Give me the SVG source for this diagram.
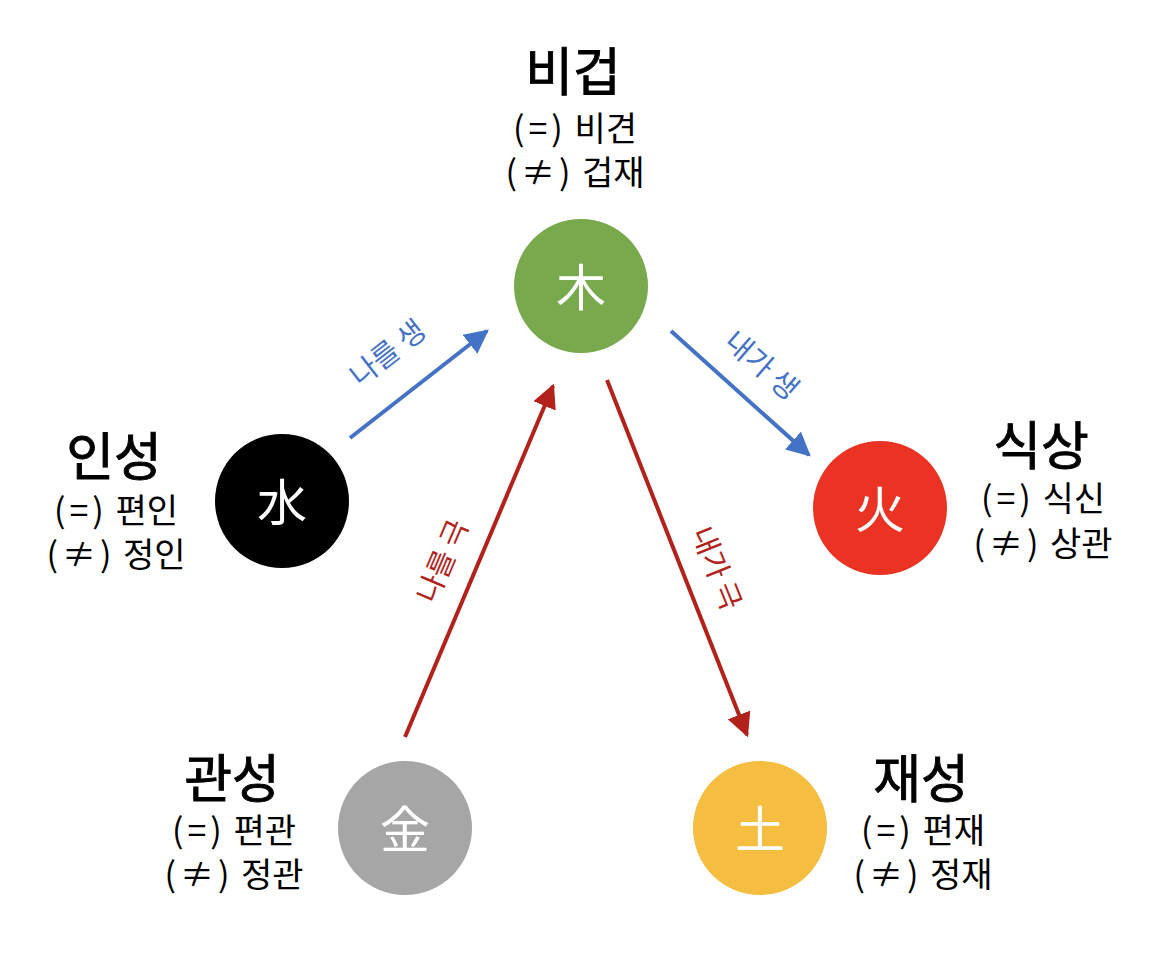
<svg xmlns="http://www.w3.org/2000/svg" width="1168" height="962" viewBox="0 0 1168 962">
<style>
.t{font-family:"Noto Sans CJK KR","Noto Sans",sans-serif;fill:#000;text-anchor:middle}
.h{font-size:52px;font-weight:400;stroke:#000;stroke-width:0.9}
.s{font-size:34px}
.p{letter-spacing:4px}
.c{font-family:"Noto Sans CJK KR","Noto Sans CJK SC",sans-serif;fill:#fff;font-size:50px;text-anchor:middle;dominant-baseline:central}
.lb{font-family:"Noto Sans CJK KR",sans-serif;font-size:29px;text-anchor:middle}
.blue{stroke:#4472C4;stroke-width:4;fill:none}
.red{stroke:#B2221A;stroke-width:4;fill:none}
</style>
<defs>
<marker id="ab" viewBox="0 0 10 10" refX="9" refY="5" markerWidth="6" markerHeight="6" markerUnits="strokeWidth" orient="auto"><path d="M0,0L10,5L0,10z" fill="#4472C4"/></marker>
<marker id="ar" viewBox="0 0 10 10" refX="9" refY="5" markerWidth="6" markerHeight="6" markerUnits="strokeWidth" orient="auto"><path d="M0,0L10,5L0,10z" fill="#B2221A"/></marker>
</defs>
<g id="connectors">
<line class="blue" x1="350" y1="438" x2="487" y2="331" marker-end="url(#ab)"/>
<line class="blue" x1="671" y1="331" x2="809" y2="455" marker-end="url(#ab)"/>
<line class="red" x1="405" y1="737" x2="553" y2="386" marker-end="url(#ar)"/>
<line class="red" x1="607" y1="380" x2="747" y2="735" marker-end="url(#ar)"/>
<text class="lb" fill="#4472C4" transform="translate(394,361) rotate(-38)">나를 생</text>
<text class="lb" fill="#4472C4" transform="translate(755,373) rotate(41)">내가 생</text>
<text class="lb" fill="#B2221A" transform="translate(452,565) rotate(-67)">나를 극</text>
<text class="lb" fill="#B2221A" transform="translate(707,572) rotate(68)">내가 극</text>
</g>
<g id="wood">
<circle cx="581" cy="286" r="67" fill="#78A94C"/>
<text class="c" x="581" y="284">木</text>
<text class="t h" x="573" y="91">비겁</text>
<text class="t s" x="575" y="141"><tspan class="p">(=)</tspan> 비견</text>
<text class="t s" x="575" y="185"><tspan class="p">(≠)</tspan> 겁재</text>
</g>
<g id="water">
<circle cx="282" cy="501" r="67" fill="#000"/>
<text class="c" x="282" y="499">水</text>
<text class="t h" x="114" y="476">인성</text>
<text class="t s" x="116" y="523"><tspan class="p">(=)</tspan> 편인</text>
<text class="t s" x="116" y="567"><tspan class="p">(≠)</tspan> 정인</text>
</g>
<g id="fire">
<circle cx="880" cy="508" r="67" fill="#EA3323"/>
<text class="c" x="880" y="506">火</text>
<text class="t h" x="1041" y="465">식상</text>
<text class="t s" x="1043" y="511"><tspan class="p">(=)</tspan> 식신</text>
<text class="t s" x="1043" y="556"><tspan class="p">(≠)</tspan> 상관</text>
</g>
<g id="metal">
<circle cx="405" cy="828" r="67" fill="#A6A6A6"/>
<text class="c" x="405" y="826">金</text>
<text class="t h" x="232" y="798">관성</text>
<text class="t s" x="234" y="843"><tspan class="p">(=)</tspan> 편관</text>
<text class="t s" x="234" y="887"><tspan class="p">(≠)</tspan> 정관</text>
</g>
<g id="earth">
<circle cx="760" cy="828" r="67" fill="#F5BE40"/>
<text class="c" x="760" y="826">土</text>
<text class="t h" x="921" y="798">재성</text>
<text class="t s" x="923" y="843"><tspan class="p">(=)</tspan> 편재</text>
<text class="t s" x="923" y="887"><tspan class="p">(≠)</tspan> 정재</text>
</g>
</svg>
